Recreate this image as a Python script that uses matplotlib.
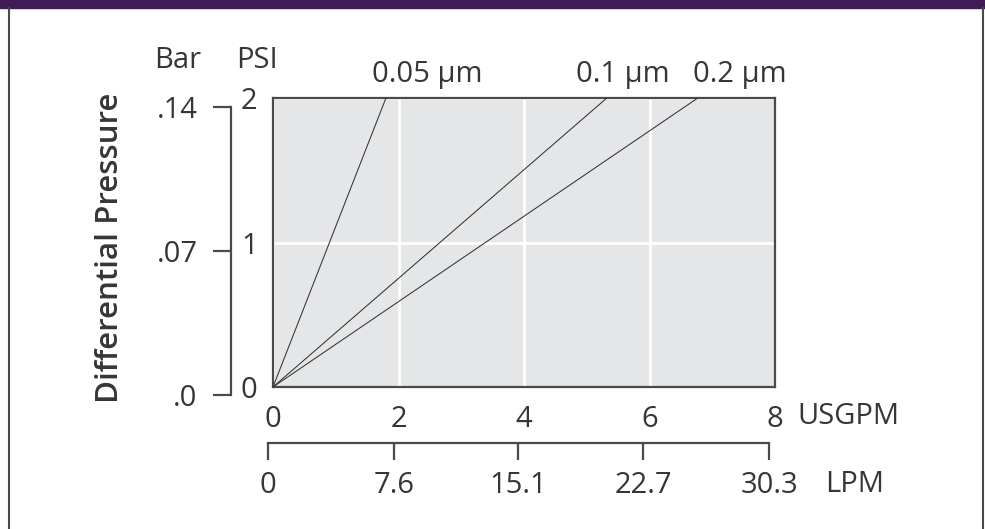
import matplotlib
matplotlib.use("Agg")
import matplotlib.pyplot as plt
from matplotlib.lines import Line2D
from matplotlib.patches import Rectangle

# data
series_names = ["0.05 µm", "0.1 µm", "0.2 µm"]
flow_at_2psi = [1.8, 5.32, 6.77]          # USGPM where each line reaches 2 PSI
psi_at_end = 2

usgpm_ticks = [0, 2, 4, 6, 8]
lpm_ticks = [0, 7.6, 15.1, 22.7, 30.3]
psi_ticks = [0, 1, 2]
bar_ticks = [0, 0.07, 0.14]
bar_labels = [".0", ".07", ".14"]

W, H = 985, 529
txt = "#363636"
frame = "#4a4a4a"
plt.rcParams["font.family"] = ["Open Sans", "DejaVu Sans"]
plt.rcParams["font.size"] = 21
plt.rcParams["text.color"] = txt


def fx(px):
    return px / W


def fy(py):
    return 1 - py / H


fig = plt.figure(figsize=(W / 100, H / 100), dpi=100)

# purple banner and side borders
fig.patches.append(Rectangle((0, fy(8)), 1, 8 / H, transform=fig.transFigure,
                             color="#411a5a", zorder=0))
fig.lines.append(Line2D([fx(8.5), fx(8.5)], [0, fy(8)], transform=fig.transFigure,
                        color=frame, lw=1.5))
fig.lines.append(Line2D([fx(983), fx(983)], [0, fy(8)], transform=fig.transFigure,
                        color=frame, lw=1.5))

# main plot
ax = fig.add_axes([fx(273), fy(387), fx(502), 289 / H])
ax.set_facecolor("#e5e6e8")
for name, f in zip(series_names, flow_at_2psi):
    ax.plot([0, f], [0, psi_at_end], color="#333333", lw=0.75, zorder=3)
ax.set_xlim(0, 8)
ax.set_ylim(0, 2)
ax.set_xticks(usgpm_ticks)
ax.set_yticks(psi_ticks)
ax.grid(True, color="white", lw=2)
ax.set_axisbelow(True)
for s in ax.spines.values():
    s.set_color(frame)
    s.set_linewidth(1.6)
ax.tick_params(axis="x", length=0, pad=13, labelcolor=txt)
ax.tick_params(axis="y", length=0, pad=11, labelcolor=txt)

# line labels at top
label_x = [427, 623, 740]
for name, lx in zip(series_names, label_x):
    fig.text(fx(lx), fy(82), name, ha="center", va="baseline")

fig.text(fx(797), fy(416), "USGPM", ha="left", va="center")

# LPM scale below
lpm_ax = fig.add_axes([fx(268), fy(443), fx(501), 0.0001])
lpm_ax.set_xlim(0, 8 * 3.785)
lpm_ax.set_xticks(lpm_ticks)
lpm_ax.set_xticklabels([str(v) if v else "0" for v in lpm_ticks])
lpm_ax.set_yticks([])
lpm_ax.patch.set_visible(False)
for k in ["top", "left", "right"]:
    lpm_ax.spines[k].set_visible(False)
lpm_ax.spines["bottom"].set_color(frame)
lpm_ax.spines["bottom"].set_linewidth(1.6)
lpm_ax.tick_params(axis="x", direction="out", length=12.5, width=1.6, color=frame,
                   pad=8, labelcolor=txt)
fig.text(fx(825), fy(484), "LPM", ha="left", va="center")

# Bar scale on the left
bar_ax = fig.add_axes([fx(231), fy(395), 0.0001, 288 / H])
bar_ax.set_ylim(0, 0.14)
bar_ax.set_yticks(bar_ticks)
bar_ax.set_yticklabels(bar_labels)
bar_ax.set_xticks([])
bar_ax.patch.set_visible(False)
for k in ["top", "bottom", "right"]:
    bar_ax.spines[k].set_visible(False)
bar_ax.spines["left"].set_color(frame)
bar_ax.spines["left"].set_linewidth(1.6)
bar_ax.tick_params(axis="y", direction="out", length=13, width=1.6, color=frame,
                   pad=11, labelcolor=txt)

fig.text(fx(178), fy(61), "Bar", ha="center", va="center")
fig.text(fx(257), fy(61), "PSI", ha="center", va="center")
fig.text(fx(110), fy(248), "Differential Pressure", rotation=90, ha="center",
         va="center", fontsize=22.5, fontweight="semibold")

fig.savefig("out.png", dpi=100)
